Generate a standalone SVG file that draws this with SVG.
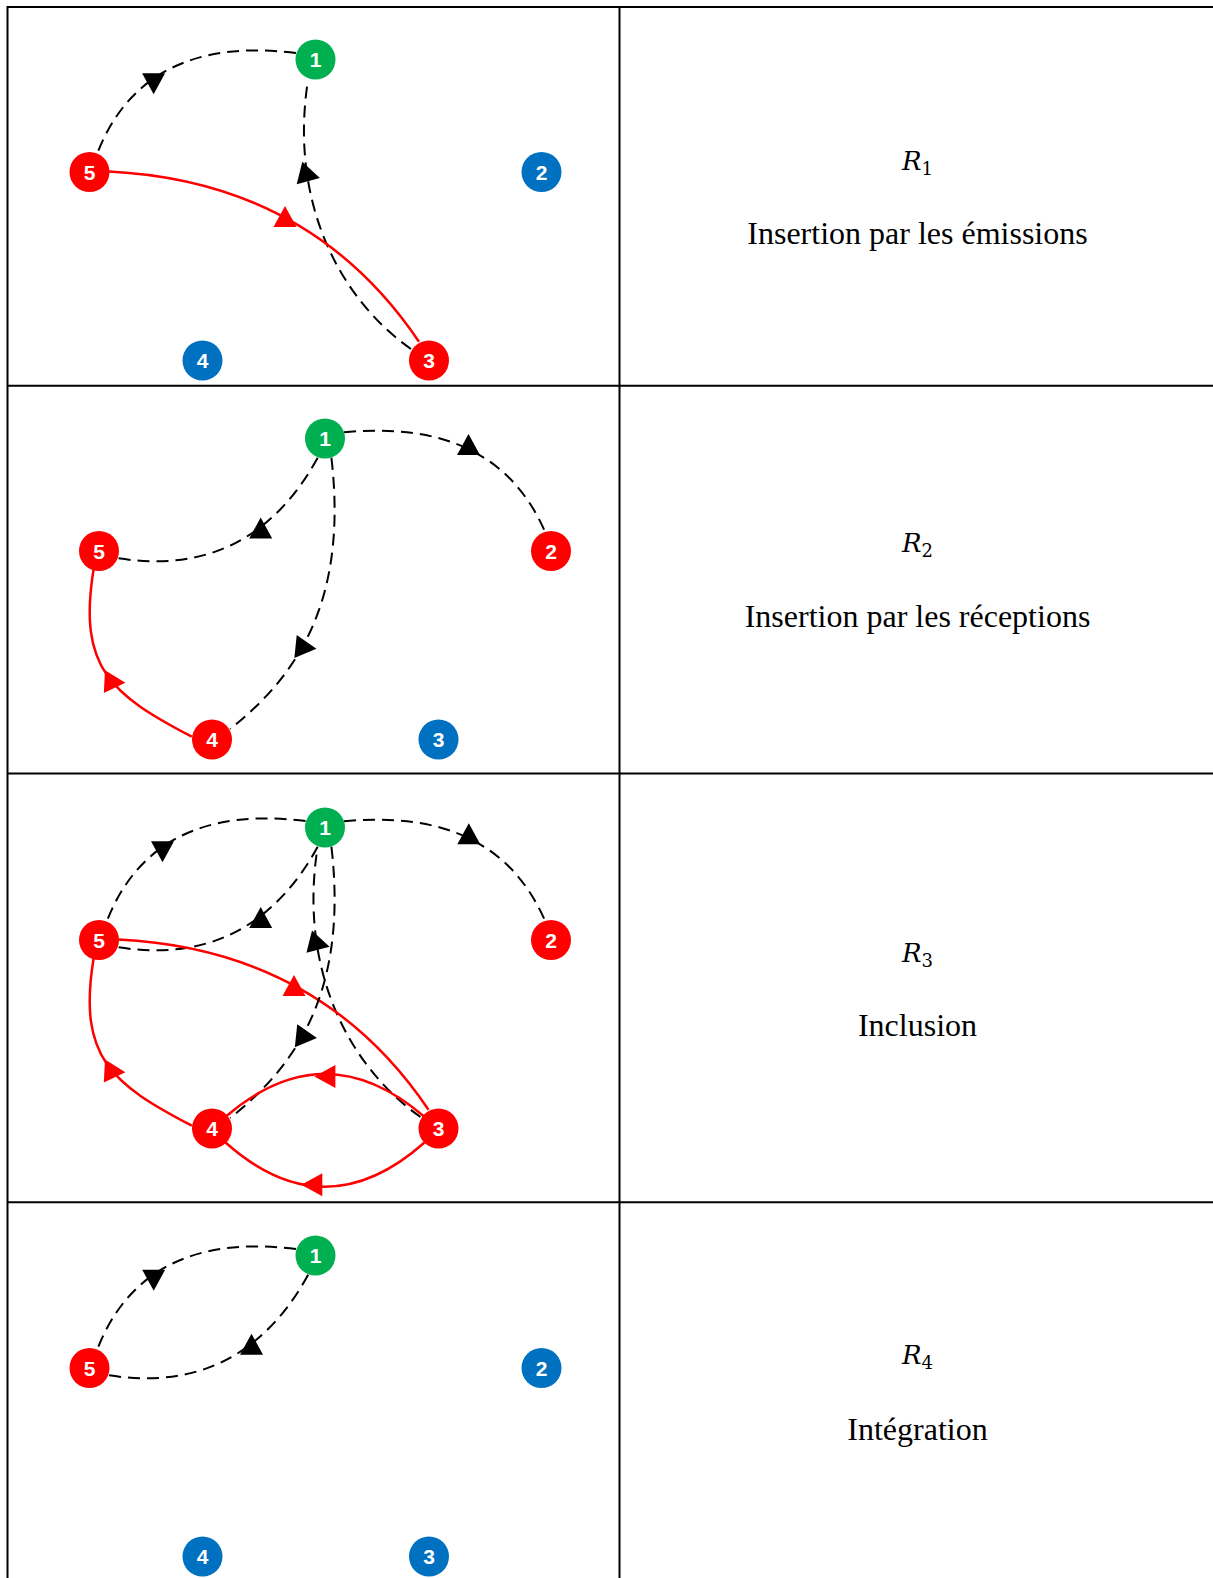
<svg xmlns="http://www.w3.org/2000/svg" xmlns:xlink="http://www.w3.org/1999/xlink" width="1213" height="1578" viewBox="0 0 1213 1578">
<style>
.tbl{stroke:#000;stroke-width:2;fill:none}
.g{fill:#00B050}.r{fill:#FF0000}.b{fill:#0070C0}
.lbl{font-family:"Liberation Sans",Arial,sans-serif;font-weight:bold;font-size:21px;fill:#fff;text-anchor:middle}
.dash{fill:none;stroke:#000;stroke-width:2;stroke-dasharray:12 7}
.red{fill:none;stroke:#FF0000;stroke-width:2.5}
.ah{fill:#000}.ahr{fill:#FF0000}
.cap{font-family:"Liberation Serif","Times New Roman",serif;font-size:32px;text-anchor:middle;fill:#000}
.math{font-family:"DejaVu Serif",serif;text-anchor:middle;fill:#000}
.mi{font-style:italic;font-size:26px}
.sub{font-size:18px}
</style>
<defs>
<path id="tri" d="M0,-14 L11.5,7 L-11.5,7 Z"/>
</defs>
<rect width="1213" height="1578" fill="#fff"/>
<g id="table">
<line class="tbl" x1="7" y1="7" x2="1213" y2="7"/>
<line class="tbl" x1="7.5" y1="6" x2="7.5" y2="1578"/>
<line class="tbl" x1="619.5" y1="6" x2="619.5" y2="1578"/>
<line class="tbl" x1="7" y1="385.7" x2="1213" y2="385.7"/>
<line class="tbl" x1="7" y1="773.5" x2="1213" y2="773.5"/>
<line class="tbl" x1="7" y1="1202.3" x2="1213" y2="1202.3"/>
</g>
<g id="connectors">
<g id="c-r1">
<path class="dash" d="M296,53 Q143.5,34 97,154"/>
<use xlink:href="#tri" class="ah" transform="translate(153.6,80.2) rotate(180)"/>
<path class="dash" d="M411,349 C337,297 289.4,198.8 308,80"/>
<use xlink:href="#tri" class="ah" transform="translate(306.3,174.7) rotate(104)"/>
<path class="red" d="M109,171.5 Q310.9,181.5 419,341.7"/>
<use xlink:href="#tri" class="ahr" transform="translate(285,220)"/>
</g>
<g id="c-r2" transform="translate(9.5,379)">
<path class="dash" d="M334.5,53.3 Q485.9,38.7 535.5,152.7"/>
<use xlink:href="#tri" class="ah" transform="translate(459,69)"/>
<path class="dash" d="M109.1,179.3 Q242,200 308.8,77.7"/>
<use xlink:href="#tri" class="ah" transform="translate(251.2,152.4)"/>
<path class="dash" d="M321.9,78.7 C339.3,227.6 283,300.4 220.6,350"/>
<use xlink:href="#tri" class="ah" transform="translate(293,268.2) rotate(96)"/>
<path class="red" d="M182.3,357.7 C102.6,315.9 68,290 84,191"/>
<use xlink:href="#tri" class="ahr" transform="translate(101.9,303) rotate(93)"/>
</g>
<g id="c-r3" transform="translate(9.5,768)">
<path class="dash" d="M296,53 Q143.5,34 97,154"/>
<use xlink:href="#tri" class="ah" transform="translate(153,80.2) rotate(180)"/>
<path class="dash" d="M334.5,53.3 Q485.9,38.7 535.5,152.7"/>
<use xlink:href="#tri" class="ah" transform="translate(459.3,69.2)"/>
<path class="dash" d="M109.1,179.3 Q242,200 308.8,77.7"/>
<use xlink:href="#tri" class="ah" transform="translate(251.2,153)"/>
<path class="dash" d="M411,349 C337,297 289.4,198.8 308,80"/>
<use xlink:href="#tri" class="ah" transform="translate(306.5,175.3) rotate(104)"/>
<path class="red" d="M109,171.5 Q310.9,181.5 419,341.7"/>
<use xlink:href="#tri" class="ahr" transform="translate(284.5,221)"/>
<path class="dash" d="M321.9,78.7 C339.3,227.6 283,300.4 220.6,350"/>
<use xlink:href="#tri" class="ah" transform="translate(293.5,268.5) rotate(96)"/>
<path class="red" d="M182.3,357.7 C102.6,315.9 68,290 84,191"/>
<use xlink:href="#tri" class="ahr" transform="translate(101.9,303.4) rotate(93)"/>
<path class="red" d="M414,348 Q315.5,264 217,348"/>
<use xlink:href="#tri" class="ahr" transform="translate(318.9,308.5) rotate(-90)"/>
<path class="red" d="M415,374.5 Q315.5,462.9 216,374.5"/>
<use xlink:href="#tri" class="ahr" transform="translate(305.8,416.7) rotate(-90)"/>
</g>
<g id="c-r4" transform="translate(0,1196)">
<path class="dash" d="M296,53 Q143.5,34 97,154"/>
<use xlink:href="#tri" class="ah" transform="translate(153.7,80.7) rotate(180)"/>
<path class="dash" d="M109.1,179.3 Q242,200 308.8,77.7"/>
<use xlink:href="#tri" class="ah" transform="translate(251.5,151.7)"/>
</g>
</g>
<g id="nodes-r1">
<g id="r1-n1" transform="translate(315.5,59.5)"><circle r="20" class="g"/><text class="lbl" y="7.5">1</text></g>
<g id="r1-n2" transform="translate(541.5,172)"><circle r="20" class="b"/><text class="lbl" y="7.5">2</text></g>
<g id="r1-n3" transform="translate(429,360.5)"><circle r="20" class="r"/><text class="lbl" y="7.5">3</text></g>
<g id="r1-n4" transform="translate(202.5,360.5)"><circle r="20" class="b"/><text class="lbl" y="7.5">4</text></g>
<g id="r1-n5" transform="translate(89.5,172)"><circle r="20" class="r"/><text class="lbl" y="7.5">5</text></g>
</g>
<g id="nodes-r2" transform="translate(9.5,379)">
<g id="r2-n1" transform="translate(315.5,59.5)"><circle r="20" class="g"/><text class="lbl" y="7.5">1</text></g>
<g id="r2-n2" transform="translate(541.5,172)"><circle r="20" class="r"/><text class="lbl" y="7.5">2</text></g>
<g id="r2-n3" transform="translate(429,360.5)"><circle r="20" class="b"/><text class="lbl" y="7.5">3</text></g>
<g id="r2-n4" transform="translate(202.5,360.5)"><circle r="20" class="r"/><text class="lbl" y="7.5">4</text></g>
<g id="r2-n5" transform="translate(89.5,172)"><circle r="20" class="r"/><text class="lbl" y="7.5">5</text></g>
</g>
<g id="nodes-r3" transform="translate(9.5,768)">
<g id="r3-n1" transform="translate(315.5,59.5)"><circle r="20" class="g"/><text class="lbl" y="7.5">1</text></g>
<g id="r3-n2" transform="translate(541.5,172)"><circle r="20" class="r"/><text class="lbl" y="7.5">2</text></g>
<g id="r3-n3" transform="translate(429,360.5)"><circle r="20" class="r"/><text class="lbl" y="7.5">3</text></g>
<g id="r3-n4" transform="translate(202.5,360.5)"><circle r="20" class="r"/><text class="lbl" y="7.5">4</text></g>
<g id="r3-n5" transform="translate(89.5,172)"><circle r="20" class="r"/><text class="lbl" y="7.5">5</text></g>
</g>
<g id="nodes-r4" transform="translate(0,1196)">
<g id="r4-n1" transform="translate(315.5,59.5)"><circle r="20" class="g"/><text class="lbl" y="7.5">1</text></g>
<g id="r4-n2" transform="translate(541.5,172)"><circle r="20" class="b"/><text class="lbl" y="7.5">2</text></g>
<g id="r4-n3" transform="translate(429,360.5)"><circle r="20" class="b"/><text class="lbl" y="7.5">3</text></g>
<g id="r4-n4" transform="translate(202.5,360.5)"><circle r="20" class="b"/><text class="lbl" y="7.5">4</text></g>
<g id="r4-n5" transform="translate(89.5,172)"><circle r="20" class="r"/><text class="lbl" y="7.5">5</text></g>
</g>
<g id="captions">
<text class="math" x="917.5" y="170"><tspan class="mi">R</tspan><tspan class="sub" dy="5">1</tspan></text>
<text class="cap" x="917.5" y="244">Insertion par les émissions</text>
<text class="math" x="917.5" y="552"><tspan class="mi">R</tspan><tspan class="sub" dy="5">2</tspan></text>
<text class="cap" x="917.5" y="627">Insertion par les réceptions</text>
<text class="math" x="917.5" y="962"><tspan class="mi">R</tspan><tspan class="sub" dy="5">3</tspan></text>
<text class="cap" x="917.5" y="1036">Inclusion</text>
<text class="math" x="917.5" y="1364"><tspan class="mi">R</tspan><tspan class="sub" dy="5">4</tspan></text>
<text class="cap" x="917.5" y="1440">Intégration</text>
</g>
</svg>
